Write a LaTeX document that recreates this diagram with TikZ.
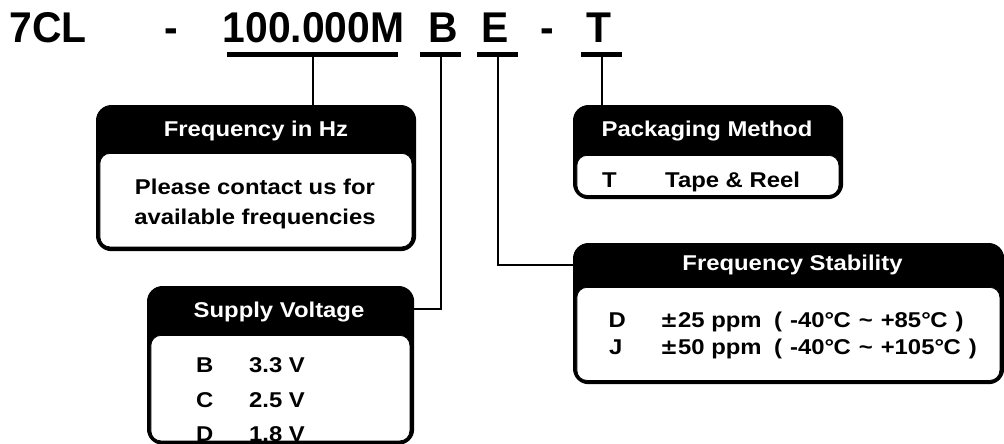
\documentclass[tikz,border=0pt]{standalone}
\usepackage{fontspec}
\setmainfont{Liberation Sans}
\newfontfamily\titlefont{Liberation Sans}[FakeStretch=0.95]
\newfontfamily\boxfont{Liberation Sans}[FakeStretch=1.115]
\newfontfamily\dvfont{DejaVu Sans}
\newcommand\degC{°\kern-0.5pt C}
\newcommand\pmsign{{\dvfont\bfseries ±}}
\newcommand\gap{\hspace{8pt}}
\usetikzlibrary{calc}
\tikzset{
  outerbox/.style={draw=black, line width=1.2pt, fill=black, rounded corners=15pt,
    inner sep=0pt, anchor=north west},
  innerbox/.style={draw=black, line width=0.8pt, fill=white, rounded corners=10pt,
    inner sep=0pt, anchor=north west},
  hdtext/.style={text=white, font=\boxfont\bfseries\fontsize{21.4}{24}\selectfont,
    inner sep=0pt, anchor=base},
  bodytext/.style={font=\boxfont\bfseries\fontsize{21.4}{24}\selectfont,
    inner sep=0pt, anchor=base},
  rowtext/.style={font=\boxfont\bfseries\fontsize{21.4}{24}\selectfont,
    inner sep=0pt, anchor=base west},
  titletext/.style={font=\titlefont\bfseries\fontsize{43}{48}\selectfont,
    inner sep=0pt, anchor=base},
  uline/.style={fill=black, inner sep=0pt, minimum height=5pt},
  conn/.style={line width=2pt}
}
\begin{document}
\begin{tikzpicture}[x=1pt,y=-1pt]
\useasboundingbox (0,0) rectangle (1004,444);

% part number
\node[titletext] (t7cl) at (48,43) {7CL};
\node[titletext] (td1) at (171.5,43) {-};
\node[titletext] (tfreq) at (313.5,43) {100.000M};
\node[titletext] (tb) at (443.5,43) {B};
\node[titletext] (te) at (495,43) {E};
\node[titletext] (td2) at (547.5,43) {-};
\node[titletext] (tt) at (599,43) {T};

\node[uline, minimum width=171pt] (u1) at (312.5,54.5) {};
\node[uline, minimum width=41pt] (uB) at (440.5,54.5) {};
\node[uline, minimum width=41pt] (uE) at (497.5,54.5) {};
\node[uline, minimum width=41pt] (uT) at (601.5,54.5) {};

% Frequency in Hz
\node[outerbox, minimum width=319pt, minimum height=145pt] (fbox) at (96,105) {};
\node[innerbox, minimum width=312pt, minimum height=93.5pt] (fin) at (99.5,153) {};
\node[hdtext] (fhd) at (256,136) {Frequency in Hz};
\node[bodytext] (fl1) at (255,194) {Please contact us for};
\node[bodytext] (fl2) at (255,224) {available frequencies};

% Supply Voltage
\node[outerbox, minimum width=266pt, minimum height=157.5pt] (sbox) at (147,286) {};
\node[innerbox, minimum width=259pt, minimum height=105.5pt] (sin) at (150.5,335) {};
\node[hdtext] (shd) at (279,317) {Supply Voltage};
\node[rowtext] (sb1) at (196,372) {B};
\node[rowtext] (sb2) at (249,372) {3.3 V};
\node[rowtext] (sc1) at (196,407) {C};
\node[rowtext] (sc2) at (249,407) {2.5 V};
\node[rowtext] (sd1) at (196,441) {D};
\node[rowtext] (sd2) at (249,441) {1.8 V};

% Packaging Method
\node[outerbox, minimum width=269pt, minimum height=93pt] (pbox) at (573,105) {};
\node[innerbox, minimum width=262pt, minimum height=40pt] (pin) at (576.5,155) {};
\node[hdtext] (phd) at (707,136) {Packaging Method};
\node[rowtext] (pt1) at (602,187) {T};
\node[rowtext] (pt2) at (665,187) {Tape \& Reel};

% Frequency Stability
\node[outerbox, minimum width=430pt, minimum height=140pt] (stbox) at (573,243) {};
\node[innerbox, minimum width=423pt, minimum height=93pt] (stin) at (576.5,287) {};
\node[hdtext] (sthd) at (792.5,270) {Frequency Stability};
\node[rowtext] (std1) at (608.5,327) {D};
\node[rowtext] (std2) at (660,327) {\pmsign 25 ppm\hspace{12.5pt}(\gap-40\degC\gap\textasciitilde\gap+85\degC\gap)};
\node[rowtext] (stj1) at (609,354) {J};
\node[rowtext] (stj2) at (660,354) {\pmsign 50 ppm\hspace{12.5pt}(\gap-40\degC\gap\textasciitilde\gap+105\degC\gap)};

% connectors
\draw[conn] (u1.south) -- (u1.south |- fbox.north);
\draw[conn] (uT.south) -- (uT.south |- pbox.north);
\draw[conn] (uB.south) |- ($(sbox.north east)+(0,23)$);
\draw[conn] (uE.south) |- ($(stbox.north west)+(0,22)$);
\end{tikzpicture}
\end{document}
